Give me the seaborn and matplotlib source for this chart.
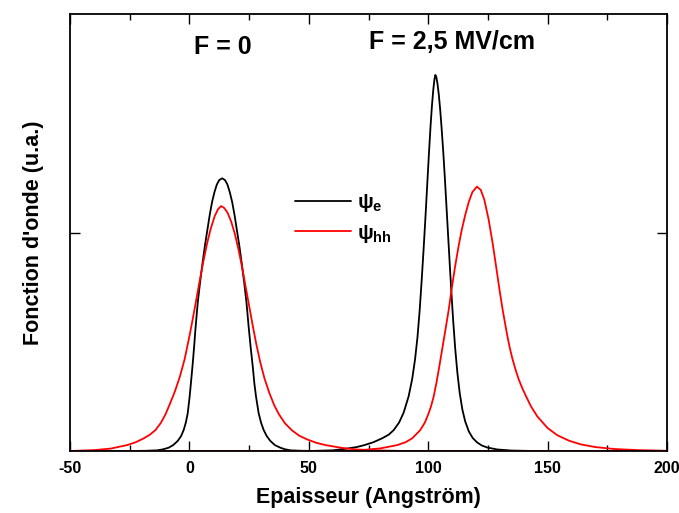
import numpy as np
import pandas as pd
import matplotlib
matplotlib.use("Agg")
import matplotlib.pyplot as plt
from matplotlib import font_manager
import seaborn as sns
from matplotlib.ticker import MultipleLocator, FixedLocator, NullFormatter

# ---- data (thickness in Angstrom, wavefunction in a.u.) ----
# electron, F = 0
e_f0_x = [-50, -25, -18.3, -13.5, -11.3, -8.7, -6.8, -4.9, -3.5, -2.4, -1.5, -0.7, 0.1, 0.8, 1.4, 2.0, 2.5, 3.5,
          4.5, 5.5, 6.5, 7.5, 8.5, 9.5, 10.5, 11.5, 12.5, 13.7,
          14.9, 15.9, 16.9, 17.9, 18.9, 19.9, 20.9, 21.9, 22.9, 23.9, 24.8, 25.7, 26.5, 27.2, 27.9, 29.0,
          30.0, 31.1, 32.4, 33.9, 35.8, 38.1, 40.0, 42.3, 47, 55, 200]
e_f0_y = [0, 0, 0.001, 0.003, 0.007, 0.015, 0.027, 0.046, 0.068, 0.096, 0.13, 0.173, 0.249, 0.33, 0.401, 0.48, 0.554, 0.68,
          0.775, 0.86, 0.94, 1.01, 1.08, 1.14, 1.185, 1.22, 1.24, 1.248,
          1.24, 1.22, 1.185, 1.14, 1.08, 1.01, 0.94, 0.86, 0.775, 0.68, 0.57, 0.47, 0.39, 0.31, 0.249, 0.173,
          0.13, 0.096, 0.068, 0.046, 0.027, 0.015, 0.008, 0.003, 0.001, 0, 0]

# heavy hole, F = 0
hh_f0_x = [-50, -45, -40, -33, -26.1, -22.5, -19.1, -16.5, -14.2, -12, -10, -8, -6, -4, -2, 0.1, 1.5, 3,
           4.5, 5.7, 7.4, 9, 10.6, 12, 13.3,
           14.6, 16, 17.5, 19, 20.5, 22, 23.5, 25, 26.5, 28, 29.7, 31.5, 33.5, 35.5, 37.5, 40, 43,
           46, 49.3, 53, 57, 64, 70, 78, 90, 200]
hh_f0_y = [0, 0.002, 0.004, 0.011, 0.027, 0.04, 0.058, 0.075, 0.096, 0.128, 0.168, 0.22, 0.275, 0.34, 0.42, 0.53, 0.61, 0.70,
           0.79, 0.86, 0.95, 1.02, 1.075, 1.107, 1.121,
           1.112, 1.09, 1.05, 0.995, 0.925, 0.845, 0.755, 0.665, 0.575, 0.49, 0.405, 0.33, 0.265, 0.21, 0.168, 0.127, 0.094,
           0.07, 0.053, 0.038, 0.027, 0.014, 0.007, 0.003, 0, 0]

# electron, F = 2,5 MV/cm
e_f25_x = [-50, 50, 60, 66, 70, 73, 77, 80.7, 83.5, 85.5, 87.8, 89.7, 91.8, 93.3, 94.5, 95.5, 96.4, 97.2, 98.0, 98.8,
           99.6, 100.3, 101.0, 101.6, 102.1, 102.6, 103.0,
           103.4, 103.9, 104.4, 105.0, 105.6, 106.3, 107.0, 107.7, 108.4, 109.1, 109.8, 110.5, 111.3, 112.2,
           113.2, 114.3, 115.5, 117.0, 118.6, 120.5, 122.5, 124.7, 128.9, 135, 145, 200]
e_f25_y = [0, 0, 0.003, 0.011, 0.018, 0.026, 0.04, 0.058, 0.075, 0.095, 0.13, 0.175, 0.25, 0.33, 0.42, 0.52, 0.64, 0.77, 0.91, 1.06,
           1.22, 1.36, 1.49, 1.585, 1.65, 1.70, 1.721,
           1.712, 1.68, 1.635, 1.565, 1.48, 1.37, 1.245, 1.11, 0.975, 0.84, 0.71, 0.59, 0.47, 0.36,
           0.265, 0.19, 0.135, 0.09, 0.06, 0.039, 0.025, 0.016, 0.007, 0.002, 0, 0]

# heavy hole, F = 2,5 MV/cm
hh_f25_x = [-50, 60, 70, 80, 87, 90.5, 93.3, 96.7, 98.6, 100.2, 101.2, 102.3, 103.5, 104.7, 106, 107.2, 108.5, 109.8,
            111.2, 112.6, 114.0, 115.5, 117, 118.5, 120.4,
            122, 123.5, 125.3, 127, 128.5, 129.9, 131.2, 133, 134, 135.2, 136.5, 138, 139.5, 141, 143, 145.7,
            150, 154.1, 159, 164, 170, 178, 188, 200]
hh_f25_y = [0, 0, 0.002, 0.012, 0.027, 0.04, 0.058, 0.096, 0.13, 0.173, 0.205, 0.25, 0.315, 0.39, 0.475, 0.554, 0.64, 0.74,
            0.84, 0.93, 1.01, 1.08, 1.14, 1.185, 1.21,
            1.195, 1.15, 1.06, 0.95, 0.84, 0.735, 0.645, 0.535, 0.48, 0.425, 0.375, 0.325, 0.285, 0.25, 0.205, 0.158,
            0.105, 0.072, 0.047, 0.03, 0.018, 0.009, 0.004, 0.001]

wave_labels = [r"ψ$_{\mathbf{e}}$", r"ψ$_{\mathbf{hh}}$"]
field_labels = ["F = 0", "F = 2,5 MV/cm"]
x_ticks = [-50, 0, 50, 100, 150, 200]

frames = []
for xs, ys, w, f in [(e_f0_x, e_f0_y, wave_labels[0], field_labels[0]),
                     (e_f25_x, e_f25_y, wave_labels[0], field_labels[1]),
                     (hh_f0_x, hh_f0_y, wave_labels[1], field_labels[0]),
                     (hh_f25_x, hh_f25_y, wave_labels[1], field_labels[1])]:
    frames.append(pd.DataFrame({"x": xs, "y": ys, "wave": w, "field": f}))
df = pd.concat(frames, ignore_index=True)

sns.set_theme(style="ticks")
plt.rcParams["font.family"] = ["Liberation Sans", "DejaVu Sans"]
plt.rcParams["mathtext.fontset"] = "custom"
plt.rcParams["mathtext.bf"] = "Liberation Sans:bold"
plt.rcParams["mathtext.rm"] = "Liberation Sans:bold"
plt.rcParams["mathtext.it"] = "Liberation Sans:bold"
for k in ["text.color", "axes.labelcolor", "xtick.color", "ytick.color", "axes.edgecolor"]:
    plt.rcParams[k] = "black"

installed = {f.name for f in font_manager.fontManager.ttflist}
if "Liberation Sans Narrow" in installed:
    tick_family, tick_size = ["Liberation Sans Narrow", "Liberation Sans"], 13.5
else:
    tick_family, tick_size = ["Liberation Sans", "DejaVu Sans"], 11.5

fig = plt.figure(figsize=(6.79, 5.13), dpi=100)
ax = fig.add_axes([70 / 679, 1 - 451 / 513, 597 / 679, 437 / 513])

sns.lineplot(data=df, x="x", y="y", hue="wave", units="field", estimator=None,
             hue_order=wave_labels, palette=["black", "red"], linewidth=1.3,
             sort=False, ax=ax)

ax.set_xlim(-50, 200)
ax.set_ylim(0, 2)
ax.xaxis.set_major_locator(FixedLocator(x_ticks))
ax.xaxis.set_minor_locator(MultipleLocator(25))
ax.yaxis.set_major_locator(FixedLocator([1]))
ax.yaxis.set_major_formatter(NullFormatter())
ax.set_xticklabels([str(t) for t in x_ticks])
ax.tick_params(axis="both", which="both", direction="in", top=True, right=True,
               color="black", width=1.0)
ax.tick_params(axis="both", which="major", length=7, pad=7)
ax.tick_params(axis="x", which="minor", length=4.5)
for lab in ax.get_xticklabels():
    lab.set_fontweight("bold")
    lab.set_family(tick_family)
    lab.set_fontsize(tick_size)
for s in ax.spines.values():
    s.set_linewidth(1.3)
    s.set_color("black")

ax.set_xlabel("Epaisseur (Angström)", fontsize=15.5, fontweight="bold", labelpad=8)
ax.set_ylabel("Fonction d'onde (u.a.)", fontsize=15.5, fontweight="bold", labelpad=12)

ax.text(14.2, 1.85, field_labels[0], fontsize=18, fontweight="bold", ha="center", va="center")
ax.text(110.1, 1.872, field_labels[1], fontsize=18, fontweight="bold", ha="center", va="center")

leg = ax.legend(loc="upper left", bbox_to_anchor=(0.345, 0.635), frameon=False,
                prop={"size": 15, "weight": "bold"}, handlelength=2.7, handletextpad=0.3,
                labelspacing=0.4)

fig.savefig("out.png", dpi=100)
